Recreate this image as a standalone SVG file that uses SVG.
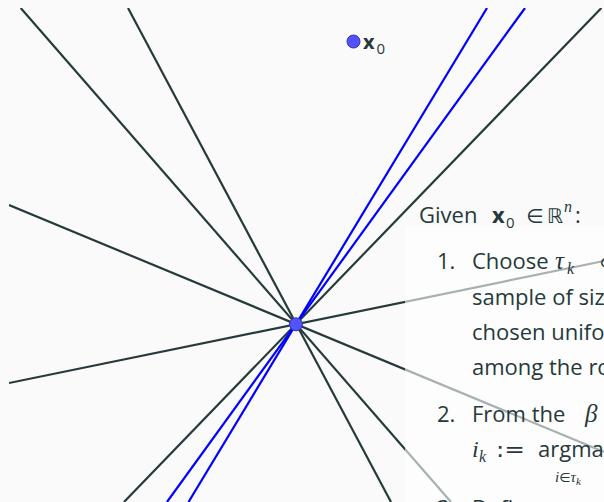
<svg xmlns="http://www.w3.org/2000/svg" width="604" height="502" viewBox="0 0 604 502">
<defs>
<style>
.ln{stroke:#263a3b;stroke-width:2.2;fill:none}
.bl{stroke:#0000ff;stroke-width:2.2;fill:none}
.pt{fill:#5252ff;stroke:#3434a8;stroke-width:1}
.t{font-family:"Open Sans","Liberation Sans",Arial,sans-serif;font-size:22px;fill:#26393a}
.m{font-family:"Liberation Serif","DejaVu Serif",serif;font-style:italic}
.bb{font-family:"DejaVu Sans",sans-serif}
</style>
<clipPath id="clip"><rect x="9" y="8" width="600" height="500"/></clipPath>
</defs>
<rect x="0" y="0" width="604" height="502" fill="#fafafa"/>
<g id="connectors" clip-path="url(#clip)">
<line class="ln" x1="20.7" y1="8" x2="451" y2="502"/>
<line class="ln" x1="128" y1="8" x2="391" y2="502"/>
<line class="ln" x1="9" y1="205" x2="604" y2="452"/>
<line class="ln" x1="9" y1="383" x2="604" y2="261"/>
<line class="ln" x1="124" y1="502" x2="601.4" y2="8"/>
<line class="bl" x1="167" y1="502" x2="525" y2="8"/>
<line class="bl" x1="188.5" y1="502" x2="487" y2="8"/>
</g>
<g id="center">
<circle class="pt" cx="296" cy="324.3" r="6.5"/>
</g>
<g id="x0">
<circle class="pt" cx="353.5" cy="41.5" r="6.5"/>
<text class="t" x="363" y="49" style="font-size:20px;font-weight:bold">x</text>
<text class="t" x="376.5" y="54" style="font-size:15px">0</text>
</g>
<g id="textbox">
<rect x="405" y="226" width="199" height="276" fill="#ffffff" fill-opacity="0.6"/>
<text class="t" x="419" y="223">Given</text>
<text class="t" x="492" y="223" style="font-weight:bold">x</text>
<text class="t" x="506" y="228" style="font-size:15px">0</text>
<text class="t bb" x="526" y="223" style="font-size:20px">∈</text>
<text class="t bb" x="547" y="223" style="font-size:20px">ℝ</text>
<text class="t m" x="564" y="212" style="font-size:16px">n</text>
<text class="t" x="575" y="223">:</text>

<text class="t" x="437" y="269">1.</text>
<text class="t" x="472" y="269">Choose</text>
<text class="t m" x="555" y="269" style="font-size:25px">τ</text>
<text class="t m" x="567" y="274" style="font-size:16px">k</text>
<text class="t bb" x="599" y="269" style="font-size:20px">⊂</text>

<text class="t" x="472" y="305">sample of siz</text>
<text class="t" x="472" y="340">chosen unifor</text>
<text class="t" x="472" y="375">among the ro</text>

<text class="t" x="437" y="422">2.</text>
<text class="t" x="472" y="422">From the</text>
<text class="t m" x="585" y="422" style="font-size:25px">β</text>

<text class="t m" x="472" y="457" style="font-size:24px">i</text>
<text class="t m" x="479" y="462" style="font-size:16px">k</text>
<text class="t bb" x="496" y="457" style="font-size:22px" textLength="29" lengthAdjust="spacingAndGlyphs">:=</text>
<text class="t" x="538" y="457">argmax</text>
<text class="t" x="555" y="482" style="font-size:15px"><tspan class="m">i</tspan><tspan class="bb" style="font-size:13px">∈</tspan><tspan class="m">τ</tspan><tspan class="m" dy="3" style="font-size:11px">k</tspan></text>

<text class="t" x="437" y="516">3.</text>
<text class="t" x="472" y="516">Define</text>
</g>
</svg>
